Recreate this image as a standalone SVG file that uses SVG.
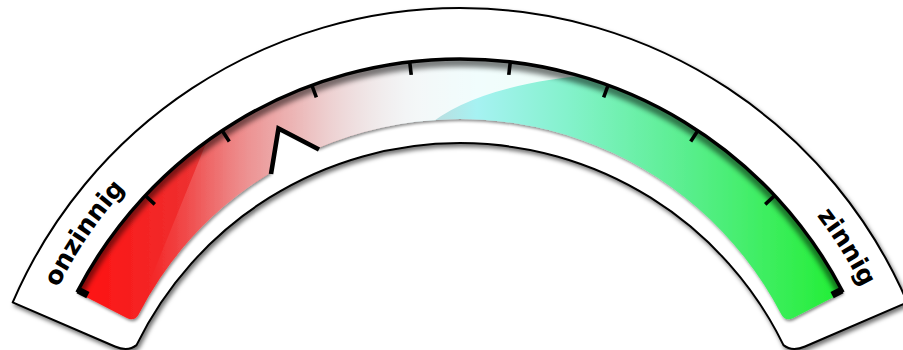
<svg xmlns="http://www.w3.org/2000/svg" width="903" height="350" viewBox="0 0 903 350">
  <defs>
    <style>
      .frame { fill: #ffffff; stroke: #000000; stroke-width: 2; stroke-linejoin: round; }
      .edge { fill: none; stroke: #000000; stroke-width: 3.5; }
      .tick { stroke: #000000; stroke-width: 3.6; stroke-linecap: butt; }
      .endtick { fill: #000000; }
      .label { font-family: "DejaVu Sans", "Verdana", sans-serif; font-weight: bold; font-size: 25px; fill: #000000; }
    </style>
    <filter id="frameShadow" x="-5%" y="-10%" width="112%" height="125%">
      <feDropShadow dx="2" dy="3" stdDeviation="2" flood-color="#000" flood-opacity="0.55"/>
    </filter>
    <filter id="bandShadow" x="-5%" y="-10%" width="112%" height="125%">
      <feDropShadow dx="1" dy="2" stdDeviation="1.6" flood-color="#000" flood-opacity="0.45"/>
    </filter>
    <filter id="soft" x="-10%" y="-10%" width="120%" height="130%">
      <feGaussianBlur stdDeviation="2.5"/>
    </filter>
    <linearGradient id="scaleFill" gradientUnits="userSpaceOnUse" x1="77" y1="0" x2="843" y2="0">
      <stop offset="0" stop-color="#ff1010"/>
      <stop offset="0.147" stop-color="#ee3030"/>
      <stop offset="0.291" stop-color="#d87070"/>
      <stop offset="0.43" stop-color="#c8d0d4"/>
      <stop offset="0.522" stop-color="#a6f2f2"/>
      <stop offset="0.64" stop-color="#84f2cc"/>
      <stop offset="0.8" stop-color="#58ee8c"/>
      <stop offset="1" stop-color="#22ee33"/>
    </linearGradient>
    <linearGradient id="gloss" gradientUnits="userSpaceOnUse" x1="150" y1="0" x2="600" y2="0">
      <stop offset="0" stop-color="#ffffff" stop-opacity="0"/>
      <stop offset="0.09" stop-color="#ffffff" stop-opacity="0.15"/>
      <stop offset="0.2" stop-color="#ffffff" stop-opacity="0.35"/>
      <stop offset="0.4" stop-color="#ffffff" stop-opacity="0.6"/>
      <stop offset="0.6" stop-color="#ffffff" stop-opacity="0.82"/>
      <stop offset="1" stop-color="#ffffff" stop-opacity="0.9"/>
    </linearGradient>
    <clipPath id="bandClip">
      <path d="M 77 292.3 A 431 431 0 0 1 843 292.3 L 793.2 318 Q 785.2 322.1 781.1 313.9 A 362 362 0 0 0 318 148 L 278 127 L 270 172.9 A 362 362 0 0 0 138.9 313.9 Q 134.8 322.1 126.8 318 Z"/>
    </clipPath>
    <path id="labelArc" d="M 25.3 373.5 A 450 450 0 0 1 894.7 373.5"/>
  </defs>

  <g id="gauge-frame">
    <path class="frame" filter="url(#frameShadow)" d="M 12.7 302.4 A 487 487 0 0 1 907.3 302.4 L 805 346.5 Q 792 352 783.5 345.1 A 360 360 0 0 0 136.5 345.1 Q 128 352 115 346.5 Z"/>
  </g>

  <g id="scale-band">
    <path fill="url(#scaleFill)" filter="url(#bandShadow)" d="M 77 292.3 A 431 431 0 0 1 843 292.3 L 793.2 318 Q 785.2 322.1 781.1 313.9 A 362 362 0 0 0 318 148 L 278 127 L 270 172.9 A 362 362 0 0 0 138.9 313.9 Q 134.8 322.1 126.8 318 Z"/>
    <g clip-path="url(#bandClip)">
      <path fill="url(#gloss)" d="M 425 128 Q 475 84 600 74 L 600 30 L 240 60 L 130 330 L 425 330 Z"/>
      <path d="M 77 292.3 A 431 431 0 0 1 843 292.3" fill="none" stroke="#000" stroke-width="10" opacity="0.5" filter="url(#soft)" transform="translate(0,3)"/>
    </g>
    <path class="edge" d="M 77 292.3 A 431 431 0 0 1 843 292.3"/>
  </g>

  <g id="ticks">
    <line class="tick" x1="409.72" y1="61.94" x2="411.23" y2="74.86"/>
    <line class="tick" x1="510.28" y1="61.94" x2="508.77" y2="74.86"/>
    <line class="tick" x1="311.88" y1="85.25" x2="316.35" y2="97.46"/>
    <line class="tick" x1="608.12" y1="85.25" x2="603.65" y2="97.46"/>
    <line class="tick" x1="222.11" y1="130.59" x2="229.29" y2="141.43"/>
    <line class="tick" x1="697.89" y1="130.59" x2="690.71" y2="141.43"/>
    <line class="tick" x1="145.30" y1="195.51" x2="154.79" y2="204.39"/>
    <line class="tick" x1="774.70" y1="195.51" x2="765.21" y2="204.39"/>
    <polygon class="endtick" points="76.5,293.2 86.3,298.2 89.5,292.0 79.75,286.97"/>
    <polygon class="endtick" points="843.5,293.2 833.7,298.2 830.5,292.0 840.25,286.97"/>
  </g>

  <g id="pointer">
    <polyline points="271,174 278.5,128.5 319,149.5" fill="none" stroke="#000" stroke-width="4.6" stroke-linejoin="miter" stroke-miterlimit="10"/>
  </g>

  <g id="label-onzinnig">
    <text class="label"><textPath href="#labelArc" startOffset="92">onzinnig</textPath></text>
  </g>
  <g id="label-zinnig">
    <text class="label" text-anchor="end"><textPath href="#labelArc" startOffset="1086">zinnig</textPath></text>
  </g>
</svg>
